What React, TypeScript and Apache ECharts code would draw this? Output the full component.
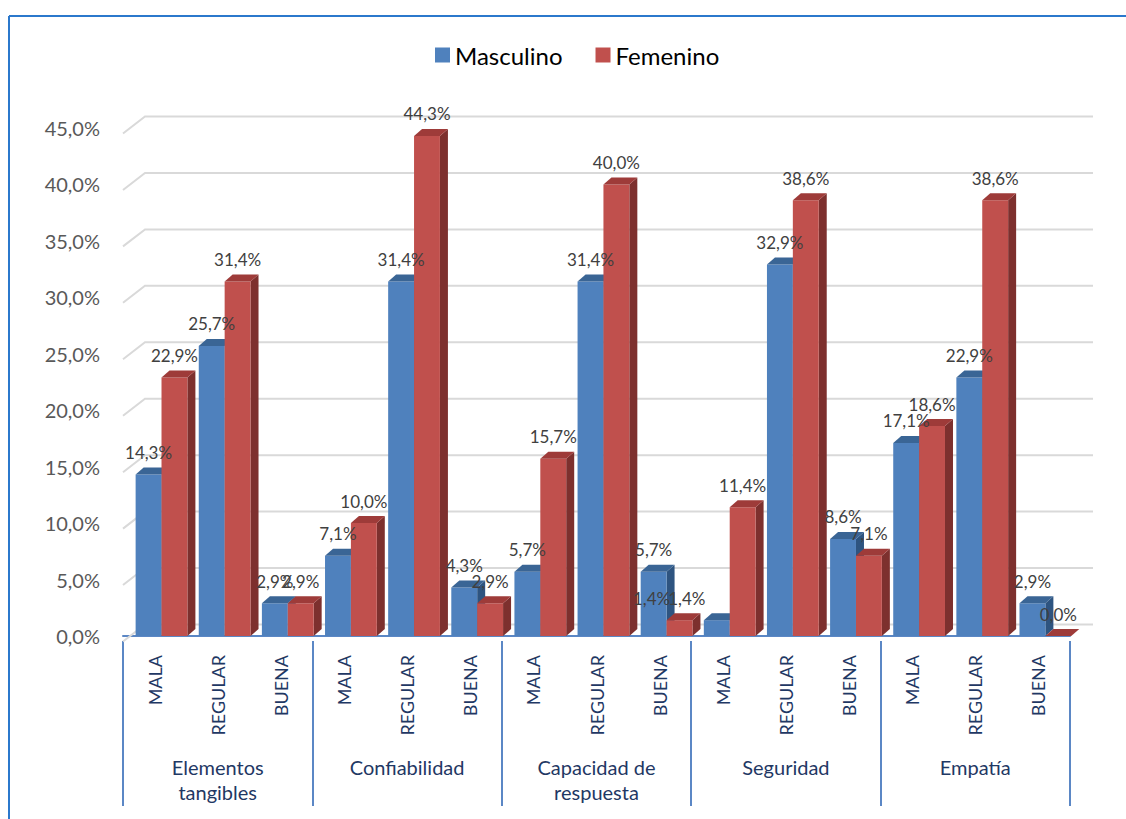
import React, { useEffect, useRef } from "react";
import * as echarts from "echarts";

const categories = [
  "MALA", "REGULAR", "BUENA",
  "MALA", "REGULAR", "BUENA",
  "MALA", "REGULAR", "BUENA",
  "MALA", "REGULAR", "BUENA",
  "MALA", "REGULAR", "BUENA",
];
const groups = ["Elementos\ntangibles", "Confiabilidad", "Capacidad de\nrespuesta", "Seguridad", "Empatía"];
const masculino = [14.3, 25.7, 2.9, 7.1, 31.4, 4.3, 5.7, 31.4, 5.7, 1.4, 32.9, 8.6, 17.1, 22.9, 2.9];
const femenino = [22.9, 31.4, 2.9, 10.0, 44.3, 2.9, 15.7, 40.0, 1.4, 11.4, 38.6, 7.1, 18.6, 38.6, 0.0];
const yTicks = [0, 5, 10, 15, 20, 25, 30, 35, 40, 45];
const seriesNames = ["Masculino", "Femenino"];

// style config (not data)
const FONT = "Lato, 'Open Sans', sans-serif";
const FACE = [
  { front: "#4F81BD", top: "#3A6595", side: "#2E5480" },
  { front: "#C0504D", top: "#9E3B39", side: "#7D302E" },
];
const LABEL_NUDGE: Record<string, number> = { "1-8": -28, "0-9": -30 };
const DEPTH_X = 8;
const DEPTH_Y = -7;

const fmt = (v: number) => v.toFixed(1).replace(".", ",") + "%";

function barGeom(api: any, s: number) {
  const i = api.value(0);
  const v = api.value(1);
  const band = api.size([1, 0])[0];
  const base = api.coord([i, 0]);
  const tp = api.coord([i, v]);
  const bw = band * 0.41;
  const x0 = base[0] - band * 0.3 + s * bw;
  return { x0, x1: x0 + bw, bw, yb: base[1], yt: tp[1] };
}

function makeBarRender(s: number) {
  const c = FACE[s];
  return (_params: any, api: any) => {
    const { x0, x1, bw, yb, yt } = barGeom(api, s);
    return {
      type: "group",
      children: [
        {
          type: "polygon",
          shape: { points: [[x1, yt], [x1 + DEPTH_X, yt + DEPTH_Y], [x1 + DEPTH_X, yb + DEPTH_Y], [x1, yb]] },
          style: { fill: c.side },
        },
        {
          type: "rect",
          shape: { x: x0, y: yt, width: bw, height: Math.max(0, yb - yt) },
          style: { fill: c.front },
        },
        {
          type: "polygon",
          shape: { points: [[x0, yt], [x1, yt], [x1 + DEPTH_X, yt + DEPTH_Y], [x0 + DEPTH_X, yt + DEPTH_Y]] },
          style: { fill: c.top },
        },
      ],
    };
  };
}

export default function App() {
  const ref = useRef<HTMLDivElement>(null);
  useEffect(() => {
    if (!ref.current) return;
    const chart = echarts.init(ref.current, undefined, { renderer: "svg" });
    const labelData: number[][] = [];
    masculino.forEach((v, i) => labelData.push([i, v, 0]));
    femenino.forEach((v, i) => labelData.push([i, v, 1]));

    chart.setOption({
      animation: false,
      backgroundColor: "#ffffff",
      textStyle: { fontFamily: FONT },
      graphic: [
        { type: "line", shape: { x1: 9, y1: 16, x2: 1130, y2: 16 }, style: { stroke: "#2B78CC", lineWidth: 2 }, z: 100 },
        { type: "line", shape: { x1: 9, y1: 16, x2: 9, y2: 830 }, style: { stroke: "#2B78CC", lineWidth: 2 }, z: 100 },
      ],
      legend: {
        data: seriesNames,
        left: 430,
        top: 38,
        icon: "rect",
        itemWidth: 15,
        itemHeight: 15,
        itemGap: 33,
        textStyle: { fontSize: 24, color: "#000000", fontFamily: FONT },
      },
      grid: { left: 123, right: 56, top: 128, bottom: 183, containLabel: false },
      xAxis: [
        {
          type: "category",
          data: categories,
          position: "bottom",
          offset: 5,
          axisLine: { show: true, lineStyle: { color: "#5B87C5", width: 2 } },
          axisTick: { show: false },
          axisLabel: {
            interval: 0,
            rotate: 90,
            margin: 14,
            fontSize: 18,
            color: "#1F3864",
            fontFamily: FONT,
          },
          splitLine: { show: false },
        },
        {
          type: "category",
          data: groups,
          position: "bottom",
          offset: 5,
          axisLine: { show: false },
          axisTick: { show: true, interval: 0, length: 165, lineStyle: { color: "#5B87C5", width: 2 } },
          axisLabel: {
            interval: 0,
            margin: 113,
            fontSize: 20,
            lineHeight: 25,
            color: "#1F3864",
            fontFamily: FONT,
          },
          splitLine: { show: false },
        },
      ],
      yAxis: {
        type: "value",
        min: 0,
        max: 45,
        interval: 5,
        axisLine: { show: false },
        axisTick: { show: false },
        splitLine: { show: false },
        axisLabel: {
          formatter: (v: number) => fmt(v),
          fontSize: 20,
          color: "#595959",
          margin: 23,
          padding: [11, 0, 0, 0],
          fontFamily: FONT,
        },
      },
      series: [
        {
          type: "custom",
          name: "grid3d",
          xAxisIndex: 0,
          z: 1,
          silent: true,
          data: yTicks.map((v) => [0, v]),
          renderItem: (params: any, api: any) => {
            const p = api.coord([0, api.value(1)]);
            const cs = params.coordSys;
            return {
              type: "polyline",
              shape: {
                points: [
                  [cs.x, p[1] + 5.5],
                  [cs.x + 22, p[1] - 11.5],
                  [cs.x + cs.width + 23, p[1] - 11.5],
                ],
              },
              style: { stroke: "#D9D9D9", lineWidth: 2, fill: "none" },
            };
          },
        },
        {
          type: "custom",
          name: seriesNames[0],
          xAxisIndex: 0,
          z: 2,
          itemStyle: { color: FACE[0].front },
          data: masculino.map((v, i) => [i, v]),
          encode: { x: 0, y: 1 },
          renderItem: makeBarRender(0),
        },
        {
          type: "custom",
          name: seriesNames[1],
          xAxisIndex: 0,
          z: 3,
          itemStyle: { color: FACE[1].front },
          data: femenino.map((v, i) => [i, v]),
          encode: { x: 0, y: 1 },
          renderItem: makeBarRender(1),
        },
        {
          type: "custom",
          name: "labels",
          xAxisIndex: 0,
          z: 10,
          silent: true,
          data: labelData,
          encode: { x: 0, y: 1 },
          renderItem: (_params: any, api: any) => {
            const s = api.value(2);
            const { x0, bw, yt } = barGeom(api, s);
            const nudge = LABEL_NUDGE[`${s}-${api.value(0)}`] || 0;
            return {
              type: "text",
              x: x0 + bw / 2 + nudge,
              y: yt - 22,
              style: {
                text: fmt(api.value(1)),
                textAlign: "center",
                textVerticalAlign: "middle",
                fontSize: 17,
                fill: "#404040",
                fontFamily: FONT,
              },
            };
          },
        },
      ],
    });
    return () => chart.dispose();
  }, []);
  return (
    <div
      ref={ref}
      style={{ position: "fixed", left: 0, top: 0, width: 1126, height: 819, background: "#fff" }}
    />
  );
}
